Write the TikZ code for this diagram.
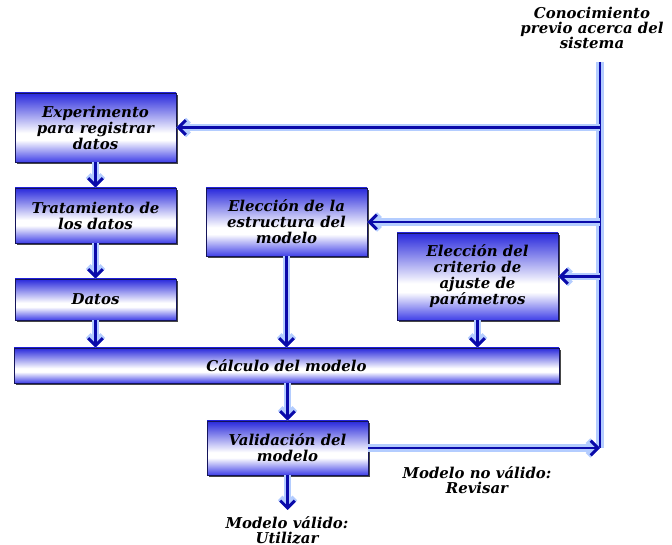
\documentclass[tikz,border=0pt]{standalone}
\usepackage{fontspec}
\setmainfont{DejaVu Serif}
\usetikzlibrary{arrows.meta,shadows}
\definecolor{lineblue}{RGB}{10,10,170}
\definecolor{glowblue}{RGB}{180,205,255}
\definecolor{boxtop}{RGB}{40,40,220}
\definecolor{boxbot}{RGB}{65,65,232}
\definecolor{boxedge}{RGB}{20,20,90}
\pgfdeclareverticalshading{boxshade}{100bp}{color(0bp)=(boxbot); color(25bp)=(boxbot); color(41bp)=(white); color(46bp)=(white); color(75bp)=(boxtop); color(100bp)=(boxtop)}
\tikzset{
  stepbox/.style={draw=boxedge, line width=0.6pt, shading=boxshade,
    drop shadow={shadow xshift=1.4pt, shadow yshift=-1.4pt, opacity=0.85, fill=black!85},
    minimum width=120.75pt, align=center, inner sep=1pt,
    font=\fontsize{11.2}{12}\selectfont\bfseries\itshape},
  lbl/.style={align=center, font=\fontsize{11.2}{11.5}\selectfont\bfseries\itshape},
  conn/.style={draw=lineblue, line width=2.2pt, -{Straight Barb[length=5.5pt,width=11pt,line width=2.2pt]},
    preaction={draw=glowblue, line width=5.5pt, -{Straight Barb[length=5.5pt,width=11pt,line width=5pt]}}},
  trunk/.style={draw=lineblue, line width=2.2pt, preaction={draw=glowblue, line width=5.5pt}}
}
\begin{document}
\begin{tikzpicture}[x=0.75pt,y=-0.75pt]
\useasboundingbox (0,0) rectangle (672,545);
\node[stepbox, minimum height=51.75pt] (exp) at (95.5,127.5) {Experimento\\para registrar\\datos};
\node[stepbox, minimum height=41.25pt] (trat) at (95.5,215.5) {Tratamiento de\\los datos};
\node[stepbox, minimum height=30.75pt] (datos) at (95.5,299.5) {Datos};
\node[stepbox, minimum height=51pt] (estr) at (286.5,222) {Elección de la\\estructura del\\modelo};
\node[stepbox, minimum height=65.25pt] (crit) at (477.5,276.5) {Elección del\\criterio de\\ajuste de\\parámetros};
\node[stepbox, minimum width=408.75pt, minimum height=26.25pt] (calc) at (286.5,365.5) {Cálculo del modelo};
\node[stepbox, minimum height=40.5pt] (val) at (287.5,448) {Validación del\\modelo};
\node[lbl] (know) at (592,28) {Conocimiento\\previo acerca del\\sistema};
\node[lbl] (nov) at (477,480) {Modelo no válido:\\Revisar};
\node[lbl] (okv) at (287,530) {Modelo válido:\\Utilizar};
\coordinate (ktop) at (600,62);
\coordinate (kbot) at (600,448);
\coordinate (vend) at (287.5,510);
\path[trunk] (ktop) -- (kbot);
\path[conn] (ktop |- exp.east) -- (exp.east);
\path[conn] (ktop |- estr.east) -- (estr.east);
\path[conn] (ktop |- crit.east) -- (crit.east);
\path[conn] (val.east) -- (kbot);
\path[conn] (exp.south) -- (trat.north);
\path[conn] (trat.south) -- (datos.north);
\path[conn] (datos.south) -- (datos.south |- calc.north);
\path[conn] (estr.south) -- (estr.south |- calc.north);
\path[conn] (crit.south) -- (crit.south |- calc.north);
\path[conn] (val.north |- calc.south) -- (val.north);
\path[conn] (val.south) -- (vend);
\end{tikzpicture}
\end{document}
